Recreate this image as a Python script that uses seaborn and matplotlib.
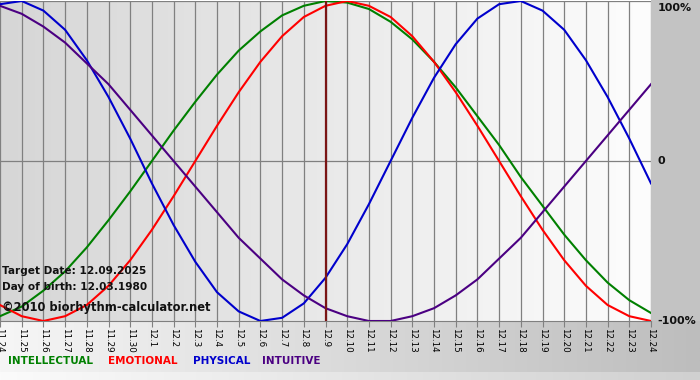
import numpy as np
import pandas as pd
import matplotlib
matplotlib.use("Agg")
import matplotlib.pyplot as plt
import seaborn as sns
from matplotlib.colors import LinearSegmentedColormap

days = ["11.24", "11.25", "11.26", "11.27", "11.28", "11.29", "11.30",
        "12.1", "12.2", "12.3", "12.4", "12.5", "12.6", "12.7", "12.8", "12.9",
        "12.10", "12.11", "12.12", "12.13", "12.14", "12.15", "12.16", "12.17",
        "12.18", "12.19", "12.20", "12.21", "12.22", "12.23", "12.24"]

intellectual = [-0.97, -0.91, -0.81, -0.69, -0.54, -0.37, -0.19, 0.00, 0.19, 0.37,
                0.54, 0.69, 0.81, 0.91, 0.97, 1.00, 0.99, 0.95, 0.87, 0.76,
                0.62, 0.46, 0.28, 0.10, -0.10, -0.28, -0.46, -0.62, -0.76, -0.87, -0.95]
emotional = [-0.90, -0.97, -1.00, -0.97, -0.90, -0.78, -0.62, -0.43, -0.22, 0.00,
             0.22, 0.43, 0.62, 0.78, 0.90, 0.97, 1.00, 0.97, 0.90, 0.78,
             0.62, 0.43, 0.22, 0.00, -0.22, -0.43, -0.62, -0.78, -0.90, -0.97, -1.00]
physical = [0.98, 1.00, 0.94, 0.82, 0.63, 0.40, 0.14, -0.14, -0.40, -0.63,
            -0.82, -0.94, -1.00, -0.98, -0.89, -0.73, -0.52, -0.27, 0.00, 0.27,
            0.52, 0.73, 0.89, 0.98, 1.00, 0.94, 0.82, 0.63, 0.40, 0.14, -0.14]
intuitive = [0.97, 0.92, 0.84, 0.74, 0.61, 0.48, 0.32, 0.16, 0.00, -0.16,
             -0.32, -0.48, -0.61, -0.74, -0.84, -0.92, -0.97, -1.00, -1.00, -0.97,
             -0.92, -0.84, -0.74, -0.61, -0.48, -0.32, -0.16, 0.00, 0.16, 0.32, 0.48]

series_names = ["INTELLECTUAL", "EMOTIONAL", "PHYSICAL", "INTUITIVE"]
series_colors = ["#008000", "#ff0000", "#0000cc", "#4b0082"]
target_day = "12.9"
target_text = "Target Date: 12.09.2025"
birth_text = "Day of birth: 12.03.1980"
copyright_text = "\u00a92010 biorhythm-calculator.net"
y_labels = [(1.0, "100%", "top"), (0.0, "0", "center"), (-1.0, "-100%", "center")]

rows = []
for name, vals in zip(series_names, [intellectual, emotional, physical, intuitive]):
    for i, v in enumerate(vals):
        rows.append({"day": i, "value": v, "series": name})
df = pd.DataFrame(rows)

W, H = 700, 380
fig = plt.figure(figsize=(W / 100, H / 100), dpi=100)

# background
bg = fig.add_axes([0, 0, 1, 1], zorder=0)
bg.axis("off")
grad = np.linspace(0, 1, 256)[None, :]
bg.fill_between([651, W], 0, 321, color="#c3c3c3", lw=0)
cm_bottom = LinearSegmentedColormap.from_list("b", ["#f6f6f6", "#bdbdbd"])
bg.imshow(grad, extent=[0, W, 372, 321], aspect="auto", cmap=cm_bottom)
cm_bottom2 = LinearSegmentedColormap.from_list("b2", ["#fbfbfb", "#d0d0d0"])
bg.imshow(grad, extent=[0, W, H, 372], aspect="auto", cmap=cm_bottom2)
bg.set_xlim(0, W)
bg.set_ylim(H, 0)

top_px, bot_px, right_px = 1, 321, 651
ax = fig.add_axes([0, 1 - bot_px / H, right_px / W, (bot_px - top_px) / H], zorder=1)
ax.patch.set_alpha(0)
n = len(days)
ax.set_xlim(0, n - 1)
ax.set_ylim(-1, 1)
cm_plot = LinearSegmentedColormap.from_list("p", ["#d6d6d6", "#fdfdfd"])
ax.imshow(grad, extent=[0, n - 1, -1, 1], aspect="auto", cmap=cm_plot, zorder=0)

for i in range(n):
    ax.axvline(i, color="#808080", lw=0.9, zorder=1)
ax.axhline(0, color="#808080", lw=0.9, zorder=1)
ax.axhline(1, color="#808080", lw=0.9, zorder=1)

sns.lineplot(data=df, x="day", y="value", hue="series", hue_order=series_names,
             palette=series_colors, linewidth=1.5, legend=False, ax=ax, zorder=3)

ti = days.index(target_day)
ax.axvline(ti, color="#7a1515", lw=1.6, zorder=4)

for s in ax.spines.values():
    s.set_visible(False)
ax.spines["bottom"].set_visible(True)
ax.spines["bottom"].set_color("#808080")
ax.set_xticks(range(n))
ax.set_xticklabels(days, rotation=270, fontsize=6.3, color="black")
ax.tick_params(axis="x", length=4, width=0.8, color="#808080", pad=1)
ax.set_yticks([])
ax.set_xlabel("")
ax.set_ylabel("")

for yv, lab, va in y_labels:
    ax.text(n - 1 + 0.3, yv if va == "center" else yv - 0.01, lab, fontsize=8,
            fontweight="bold", va=va, ha="left", clip_on=False, color="#111111")

ax.text(0.1, -0.69, target_text, fontsize=7.6, fontweight="bold", va="center",
        ha="left", zorder=5, color="#111111")
ax.text(0.1, -0.785, birth_text, fontsize=7.6, fontweight="bold", va="center",
        ha="left", zorder=5, color="#111111")
ax.text(0.1, -0.915, copyright_text, fontsize=8.3, fontweight="bold", va="center",
        ha="left", zorder=5, color="#111111")

xpos = [8, 108, 193, 262]
for name, col, xp in zip(series_names, series_colors, xpos):
    fig.text(xp / W, 1 - 361 / H, name, color=col, fontsize=7.5, fontweight="bold",
             va="center", ha="left")

fig.savefig("out.png", dpi=100)
